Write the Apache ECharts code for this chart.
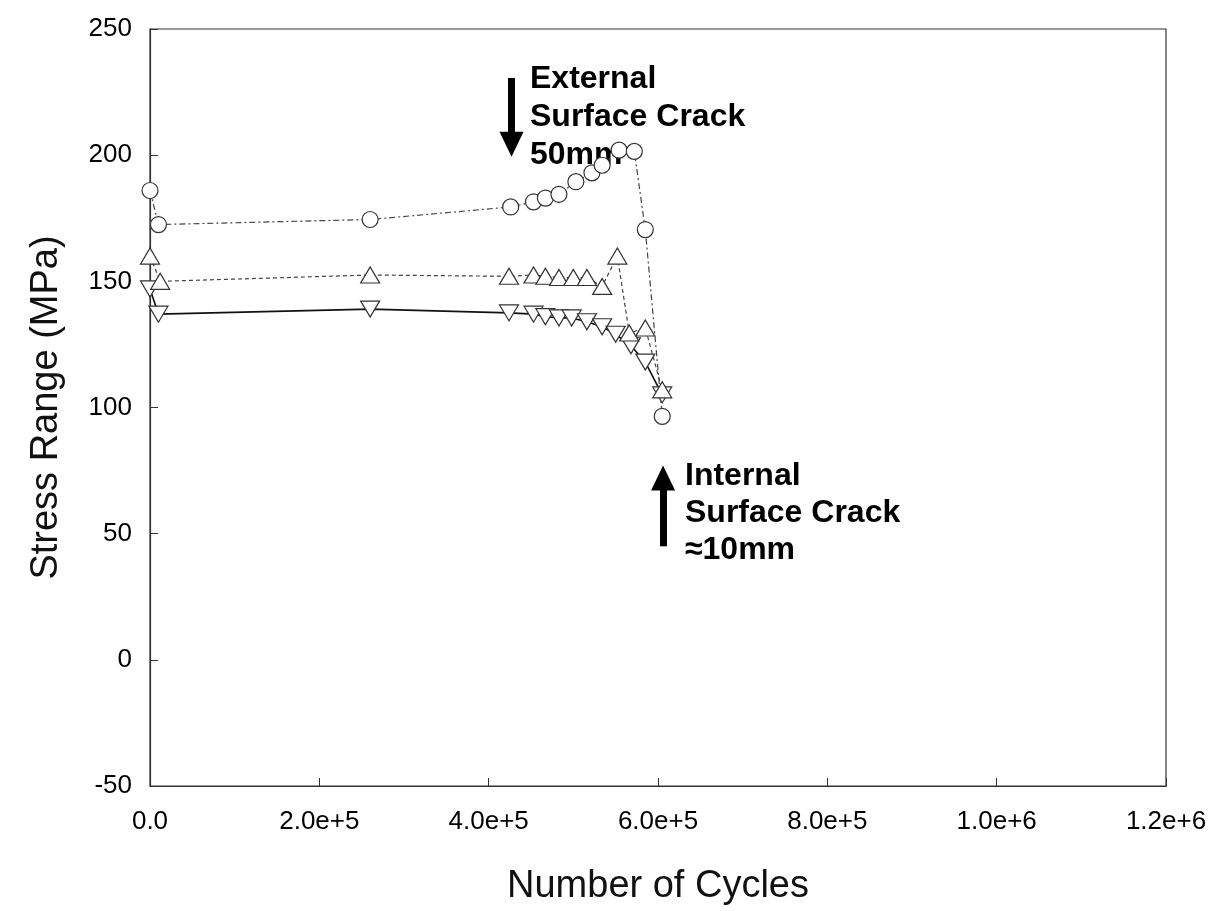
<!DOCTYPE html>
<html>
<head>
<meta charset="utf-8">
<script src="https://cdn.jsdelivr.net/npm/echarts@6/dist/echarts.min.js"></script>
<style>
  html, body { margin: 0; padding: 0; background: #fff; }
  #chart { width: 1229px; height: 911px; }
</style>
</head>
<body>
<div id="chart"></div>
<script>
// data
const circleCycles = [0, 1.0e4, 2.6e5, 4.26e5, 4.53e5, 4.67e5, 4.83e5, 5.03e5, 5.22e5, 5.34e5, 5.54e5, 5.72e5, 5.85e5, 6.05e5]
const circleStress = [186, 172.5, 174.5, 179.5, 181.5, 183, 184.5, 189.5, 193, 196, 202, 201.5, 170.5, 96.5]

const upCycles = [0, 1.2e4, 2.6e5, 4.24e5, 4.53e5, 4.67e5, 4.83e5, 5.0e5, 5.16e5, 5.34e5, 5.52e5, 5.66e5, 5.85e5, 6.05e5]
const upStress = [160, 150, 152.5, 152, 152.5, 152, 151.5, 151.5, 151.5, 148, 160, 129.5, 131.5, 107]

const downCycles = [0, 1.0e4, 2.6e5, 4.24e5, 4.53e5, 4.67e5, 4.83e5, 4.98e5, 5.16e5, 5.34e5, 5.5e5, 5.68e5, 5.85e5, 6.05e5]
const downStress = [147, 137, 139, 137.5, 137, 136, 135.5, 135.5, 134, 132, 129, 124.5, 118, 105]

const xTickLabels = ['0.0', '2.0e+5', '4.0e+5', '6.0e+5', '8.0e+5', '1.0e+6', '1.2e+6']
const yTickLabels = ['-50', '0', '50', '100', '150', '200', '250']

// annotation arrows: [x, yStart, yEnd] in data units
const externalArrow = [4.27e5, 230.6, 204.3]
const internalArrow = [6.06e5, 45, 72.1]

const FONT = '"Liberation Sans", Arial, sans-serif'

function pairs(xs, ys) {
  return xs.map((x, i) => [x, ys[i]])
}

function arrowLine(a) {
  return [[{ coord: [a[0], a[1]] }, { coord: [a[0], a[2]] }]]
}

const markerStyle = { color: '#fff', borderColor: '#333', borderWidth: 1.2 }

function renderChart() {
  const chart = echarts.init(document.getElementById('chart'))
  const option = {
    animation: false,
    grid: {
      left: 150, right: 63, top: 29, bottom: 124,
      show: true, borderColor: '#333', borderWidth: 1.2
    },
    xAxis: {
      type: 'value',
      min: 0, max: 1.2e6, interval: 2e5,
      name: 'Number of Cycles',
      nameLocation: 'middle',
      nameGap: 82,
      nameTextStyle: { fontFamily: FONT, fontSize: 38, color: '#111' },
      axisLine: { onZero: false, lineStyle: { color: '#333', width: 1.2 } },
      axisTick: { inside: true, length: 8, lineStyle: { color: '#333' } },
      axisLabel: {
        fontFamily: FONT, fontSize: 26, color: '#000', margin: 23,
        formatter: (v, i) => xTickLabels[i]
      },
      splitLine: { show: false }
    },
    yAxis: {
      type: 'value',
      min: -50, max: 250, interval: 50,
      name: 'Stress Range (MPa)',
      nameLocation: 'middle',
      nameGap: 84,
      nameTextStyle: { fontFamily: FONT, fontSize: 38, color: '#111' },
      axisLine: { onZero: false, lineStyle: { color: '#333', width: 1.2 } },
      axisTick: { inside: true, length: 8, lineStyle: { color: '#333' } },
      axisLabel: {
        fontFamily: FONT, fontSize: 26, color: '#000', margin: 18,
        formatter: (v, i) => yTickLabels[i]
      },
      splitLine: { show: false }
    },
    series: [
      {
        type: 'line',
        data: pairs(downCycles, downStress),
        symbol: 'triangle',
        symbolRotate: 180,
        symbolSize: [19, 16],
        itemStyle: markerStyle,
        lineStyle: { color: '#111', width: 1.6 }
      },
      {
        type: 'line',
        data: pairs(upCycles, upStress),
        symbol: 'triangle',
        symbolSize: [19, 16],
        itemStyle: markerStyle,
        lineStyle: { color: '#444', width: 1.2, type: [4, 3] }
      },
      {
        type: 'line',
        data: pairs(circleCycles, circleStress),
        symbol: 'circle',
        symbolSize: 16,
        itemStyle: markerStyle,
        lineStyle: { color: '#444', width: 1.2, type: [6, 3, 2, 3] },
        markLine: {
          silent: true,
          symbol: ['none', 'triangle'],
          symbolSize: [24, 25],
          label: { show: false },
          lineStyle: { color: '#000', width: 7, type: 'solid' },
          data: arrowLine(externalArrow).concat(arrowLine(internalArrow))
        }
      }
    ],
    graphic: [
      {
        type: 'text',
        left: 530, top: 60,
        style: {
          text: 'External\nSurface Crack\n50mm',
          font: 'bold 32px ' + FONT,
          lineHeight: 38,
          fill: '#000'
        }
      },
      {
        type: 'text',
        left: 685, top: 458,
        style: {
          text: 'Internal\nSurface Crack\n\u224810mm',
          font: 'bold 32px ' + FONT,
          lineHeight: 37,
          fill: '#000'
        }
      }
    ]
  }
  chart.setOption(option)
}

document.addEventListener('DOMContentLoaded', renderChart)
</script>
</body>
</html>
